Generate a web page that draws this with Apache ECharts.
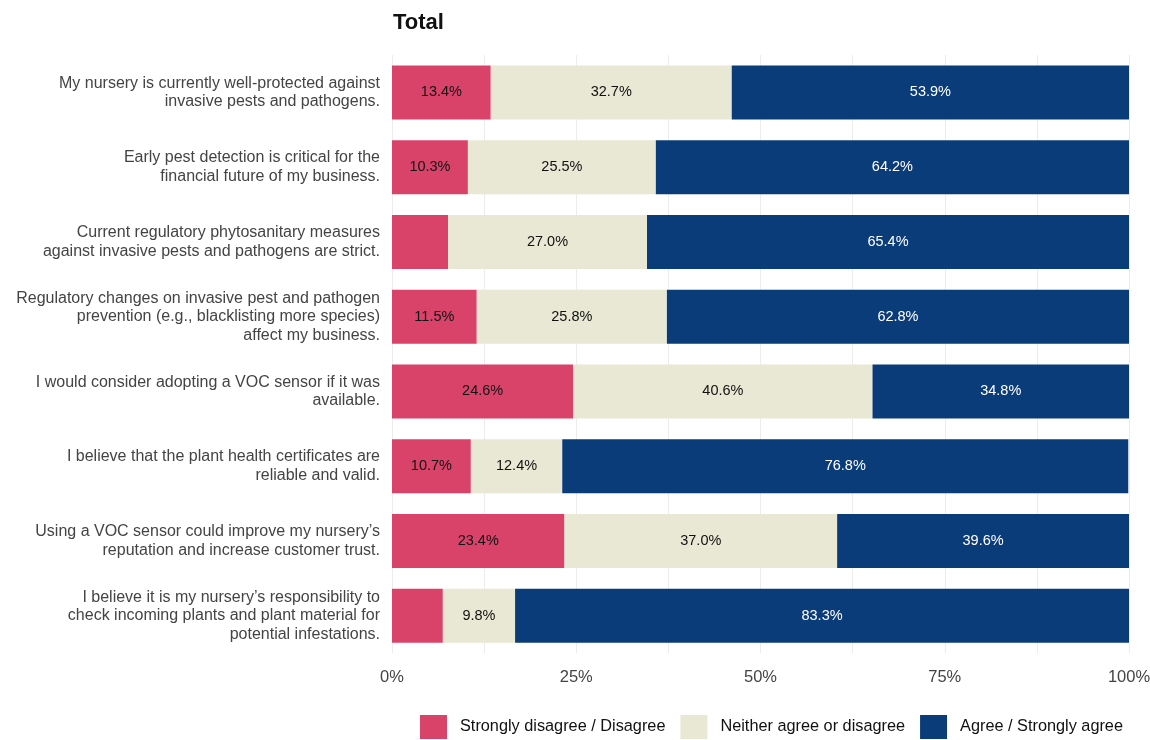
<!DOCTYPE html>
<html>
<head>
<meta charset="utf-8">
<script src="https://cdn.jsdelivr.net/npm/echarts@6/dist/echarts.min.js"></script>
<style>
html,body{margin:0;padding:0;background:#fff;}
#chart{width:1150px;height:740px;}
</style>
</head>
<body>
<div id="chart"></div>
<script>
var statements = [
    'My nursery is currently well-protected against\ninvasive pests and pathogens.',
    'Early pest detection is critical for the\nfinancial future of my business.',
    'Current regulatory phytosanitary measures\nagainst invasive pests and pathogens are strict.',
    'Regulatory changes on invasive pest and pathogen\nprevention (e.g., blacklisting more species)\naffect my business.',
    'I would consider adopting a VOC sensor if it was\navailable.',
    'I believe that the plant health certificates are\nreliable and valid.',
    'Using a VOC sensor could improve my nursery\u2019s\nreputation and increase customer trust.',
    'I believe it is my nursery\u2019s responsibility to\ncheck incoming plants and plant material for\npotential infestations.'
];
var disagree = [13.4, 10.3, 7.6, 11.5, 24.6, 10.7, 23.4, 6.9];
var neutral  = [32.7, 25.5, 27.0, 25.8, 40.6, 12.4, 37.0, 9.8];
var agree    = [53.9, 64.2, 65.4, 62.8, 34.8, 76.8, 39.6, 83.3];
var seriesNames = ['Strongly disagree / Disagree', 'Neither agree or disagree', 'Agree / Strongly agree'];
var colors = ['#D9436A', '#E8E8D4', '#0B3C7A'];
var labelColors = ['#111', '#111', '#fff'];
var font = 'Liberation Sans, Arial, sans-serif';

var chart = echarts.init(document.getElementById('chart'));

var makeSeries = function (idx, data) {
    return {
        name: seriesNames[idx],
        type: 'bar',
        stack: 'total',
        barWidth: 54,
        data: data,
        itemStyle: {color: colors[idx]},
        label: {
            show: true,
            color: labelColors[idx],
            fontSize: 14.5,
            fontFamily: font,
            formatter: function (p) {
                return p.value < 8 ? '' : p.value.toFixed(1) + '%';
            }
        }
    };
};

option = {
    backgroundColor: '#fff',
    animation: false,
    title: {
        text: 'Total',
        left: 388,
        top: 7,
        textStyle: {fontSize: 22, fontWeight: 'bold', color: '#111', fontFamily: font}
    },
    legend: {
        bottom: -4,
        left: 415,
        itemWidth: 27,
        itemHeight: 24,
        itemGap: 15,
        icon: 'rect',
        textStyle: {fontSize: 16.3, color: '#111', fontFamily: font, padding: [0, 0, 0, 8]},
        data: seriesNames
    },
    grid: {left: 392, right: 21, top: 55, bottom: 87, containLabel: false, outerBoundsMode: 'none'},
    xAxis: {
        type: 'value',
        min: 0,
        max: 100,
        interval: 12.5,
        axisLine: {show: false},
        axisTick: {show: false},
        splitLine: {lineStyle: {color: '#ececec', width: 1}},
        axisLabel: {
            color: '#444',
            fontSize: 16.5,
            margin: 16,
            fontFamily: font,
            formatter: function (v) {
                return v % 25 === 0 ? v + '%' : '';
            }
        }
    },
    yAxis: {
        type: 'category',
        inverse: true,
        data: statements,
        axisLine: {show: false},
        axisTick: {show: false},
        axisLabel: {
            color: '#444',
            fontSize: 16,
            lineHeight: 18.5,
            align: 'right',
            margin: 12,
            fontFamily: font
        }
    },
    series: [
        makeSeries(0, disagree),
        makeSeries(1, neutral),
        makeSeries(2, agree)
    ]
};
chart.setOption(option);
</script>
</body>
</html>
